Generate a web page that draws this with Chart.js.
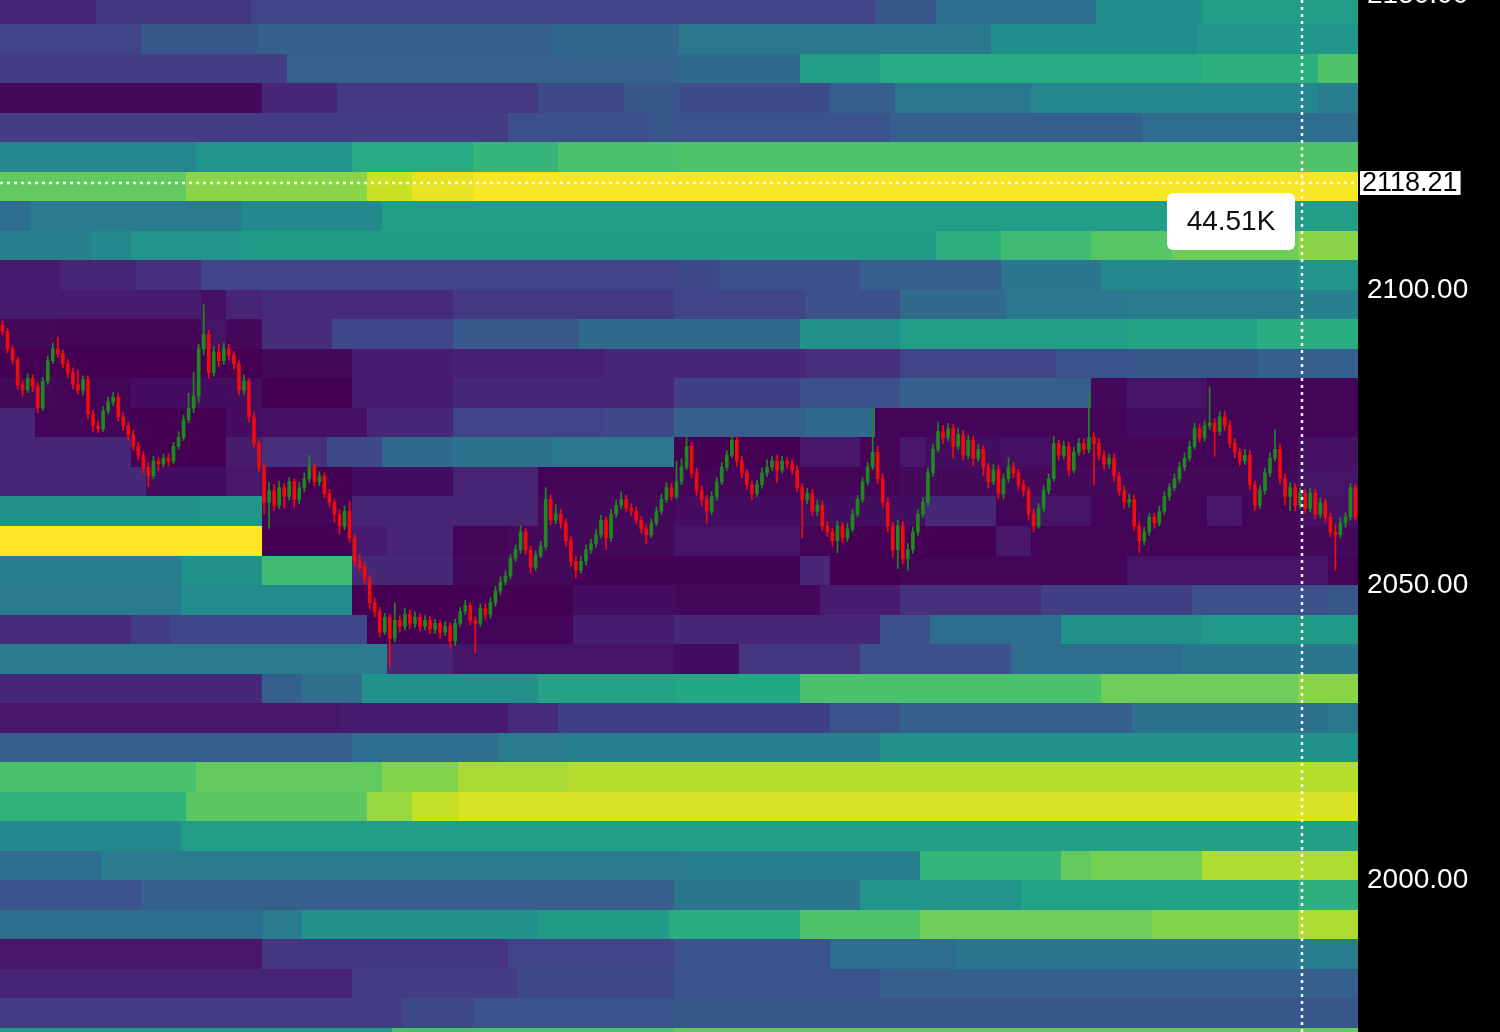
<!DOCTYPE html>
<html>
<head>
<meta charset="utf-8">
<title>Order book heatmap</title>
<script src="https://cdn.jsdelivr.net/npm/chart.js@4.4.0/dist/chart.umd.min.js"></script>
<style>
  html, body { margin: 0; padding: 0; background: #000; }
  #wrap { position: relative; width: 1500px; height: 1032px; }
</style>
</head>
<body>
<div id="wrap"><canvas id="heat"></canvas></div>
<script>
// price axis
var yTicks = [2000, 2050, 2100, 2150];
var priceMin = 1974.24, priceMax = 2149.15;
var bandSize = 5;
var maxVolume = 45; // K

// liquidity bands, bottom to top; each level is [first candle, volume in K]
var bandLows = [1970, 1975, 1980, 1985, 1990, 1995, 2000, 2005, 2010, 2015, 2020, 2025,
  2030, 2035, 2040, 2045, 2050, 2055, 2060, 2065, 2070, 2075, 2080, 2085,
  2090, 2095, 2100, 2105, 2110, 2115, 2120, 2125, 2130, 2135, 2140, 2145];
var bandLevels = [
  [[0,24.5],[78,32],[134,34]],
  [[0,8],[80,10],[94,11.5],[134,12]],
  [[0,4.5],[70,8],[103,10],[134,11.5],[175,13.5]],
  [[0,3],[52,7],[101,9],[134,11.5],[165,16],[190,17.5],[258,19]],
  [[0,16],[52,18.5],[60,22.5],[107,24.5],[133,28],[159,32.5],[183,35],[229,36.5],[258,39.5]],
  [[0,11.5],[28,13.5],[134,17.5],[171,23],[203,26],[258,28.5]],
  [[0,16],[20,18.5],[135,19],[183,29.5],[211,34],[217,35.5],[239,39.5]],
  [[0,21],[36,25],[134,25.5]],
  [[0,29],[37,33.5],[73,38],[82,41],[91,42.5]],
  [[0,32],[39,34],[76,36.5],[91,39],[113,40]],
  [[0,13.5],[70,16],[99,18.5],[113,19.5],[175,22.5]],
  [[0,3],[68,3.5],[101,5.5],[111,8.5],[165,11.5],[179,13.5],[225,17],[264,18]],
  [[0,5],[52,13.5],[60,16.5],[72,22.5],[107,26],[134,27],[159,32],[219,35],[258,37]],
  [[0,18.5],[77,4.5],[90,2.5],[134,1.5],[147,7],[171,11],[201,16],[235,17.5]],
  [[0,5.5],[26,8],[34,9.5],[73,0],[90,0.5],[114,3.5],[134,5],[175,11],[185,16],[211,22.5],[239,24]],
  [[0,18.5],[36,21.5],[70,0],[114,1.5],[134,1],[163,3.5],[179,6],[207,8.5],[237,11],[264,12]],
  [[0,19],[36,22.5],[52,31],[70,5],[90,1],[114,0.3],[159,5],[165,0],[179,0.5],[224,2.5],[264,0.5]],
  [[0,45],[52,0],[70,3.5],[77,4.5],[90,0.5],[101,1],[134,2.5],[159,0.5],[165,0],[198,3],[205,0.5],[258,1]],
  [[0,22.5],[40,23.5],[52,0.5],[70,4.5],[107,1],[134,1.5],[184,5],[198,0.5],[205,2.5],[217,0.5],[240,3],[247,0.5],[258,2]],
  [[0,5],[29,1.5],[45,3],[52,0],[70,1.5],[90,4.5],[107,0.5],[179,1],[258,2.5]],
  [[0,4.5],[26,0],[45,3.5],[52,6],[65,10],[76,15.5],[90,17],[110,18],[134,0],[159,3],[171,0.5],[179,3],[184,1.5],[199,2],[209,0.5],[258,2]],
  [[0,4.5],[7,0.5],[26,0],[45,1.5],[52,2],[73,5],[90,9],[120,10],[134,13.5],[160,15.5],[174,0.5],[224,1.5],[240,0.5]],
  [[0,1],[11,0.5],[26,1.5],[52,0],[70,3.5],[90,5],[134,8.5],[159,11],[179,13.5],[217,1],[224,2.5],[240,0.5]],
  [[0,0],[52,1],[70,3.5],[90,4],[120,5],[160,6],[179,9],[210,11.5],[224,12],[250,13.5]],
  [[0,1],[11,0.5],[40,2.5],[45,1],[52,5.5],[66,9.5],[90,12.5],[115,15.5],[159,22.5],[179,25],[224,26],[250,28]],
  [[0,3.5],[40,2],[45,4.5],[52,5.5],[90,7.5],[134,9],[160,11],[179,15.5],[200,18],[224,18.5],[258,19.5]],
  [[0,3.5],[12,4.5],[27,6],[40,9],[135,10],[143,11],[171,13.5],[199,17.5],[219,21],[258,23]],
  [[0,19.5],[18,21],[26,23],[48,24.5],[186,28.5],[199,31],[217,33],[233,35],[258,37]],
  [[0,16],[6,18.5],[48,21],[76,25]],
  [[0,34],[37,37],[73,41.5],[82,43.5],[94,44.5]],
  [[0,20.5],[39,23],[70,27.5],[94,29.5],[111,32],[135,32.5]],
  [[0,8],[101,11],[129,12],[135,11.5],[177,13.5],[227,16]],
  [[0,1],[52,5],[67,7.5],[107,10],[124,12],[135,10.5],[165,13.5],[178,18],[205,20.5],[262,19]],
  [[0,8],[57,14],[135,15.5],[159,25],[175,27.5],[239,28.5],[262,32.5]],
  [[0,9],[28,12],[51,13.5],[110,15],[135,18],[197,22],[238,23.5]],
  [[0,5],[19,7],[50,9],[174,12],[186,16],[218,22],[239,25]]
];

// candles
var firstOpen = 2094.0;
var closes = [
  2093.0, 2090.0, 2088.1, 2083.9, 2083.1, 2085.0, 2083.6, 2080.0, 2084.5, 2088.0,
  2090.0, 2089.2, 2087.5, 2086.0, 2084.0, 2083.0, 2084.8, 2079.0, 2077.0, 2076.5,
  2079.5, 2081.0, 2081.8, 2078.5, 2077.0, 2075.5, 2073.5, 2072.0, 2070.0, 2068.5,
  2071.0, 2070.5, 2071.5, 2071.0, 2073.5, 2075.0, 2078.0, 2080.0, 2082.0, 2090.0,
  2092.5, 2086.0, 2089.5, 2088.0, 2090.0, 2089.0, 2087.5, 2083.0, 2084.5, 2078.5,
  2074.0, 2070.0, 2064.0, 2066.0, 2063.5, 2066.5, 2065.0, 2067.5, 2064.5, 2066.5,
  2068.0, 2070.0, 2067.5, 2068.5, 2065.5, 2064.0, 2062.0, 2060.0, 2062.5, 2058.0,
  2054.0, 2053.0, 2051.0, 2047.0, 2045.5, 2042.0, 2044.5, 2041.0, 2044.0, 2043.0,
  2045.0, 2043.5, 2044.5, 2043.0, 2044.0, 2042.5, 2043.5, 2042.0, 2043.0, 2040.5,
  2043.5, 2045.5, 2046.5, 2044.0, 2043.5, 2046.0, 2045.0, 2047.0, 2049.0, 2050.5,
  2051.5, 2054.5, 2056.0, 2059.0, 2056.0, 2053.0, 2055.0, 2056.5, 2064.5, 2061.0,
  2062.0, 2060.5, 2057.5, 2054.0, 2052.5, 2054.0, 2056.0, 2057.0, 2058.5, 2061.0,
  2058.0, 2062.0, 2063.5, 2064.5, 2063.0, 2062.5, 2061.0, 2059.5, 2058.5, 2060.5,
  2062.5, 2064.5, 2066.5, 2065.0, 2067.5, 2070.0, 2073.5, 2069.0, 2066.0, 2064.5,
  2062.5, 2065.0, 2067.5, 2070.0, 2072.0, 2074.5, 2071.0, 2069.0, 2067.0, 2065.5,
  2067.0, 2069.0, 2070.0, 2071.0, 2069.5, 2071.0, 2070.5, 2069.5, 2066.5, 2064.5,
  2065.5, 2062.5, 2063.5, 2060.0, 2059.0, 2057.5, 2060.0, 2058.0, 2059.5, 2062.0,
  2064.5, 2067.5, 2070.0, 2072.5, 2068.0, 2064.0, 2060.0, 2056.0, 2060.0, 2054.5,
  2056.0, 2059.0, 2062.0, 2064.0, 2069.0, 2073.0, 2076.0, 2075.0, 2076.5, 2073.5,
  2075.5, 2072.0, 2074.5, 2071.5, 2073.0, 2070.0, 2067.5, 2069.5, 2065.5, 2068.0,
  2070.0, 2069.0, 2067.0, 2066.0, 2062.0, 2060.0, 2063.0, 2066.0, 2068.0, 2074.0,
  2072.0, 2073.5, 2069.5, 2072.5, 2074.0, 2073.0, 2075.0, 2074.0, 2072.0, 2070.5,
  2071.5, 2068.5, 2066.0, 2064.0, 2064.5, 2060.0, 2057.5, 2059.0, 2061.5, 2060.5,
  2062.5, 2065.0, 2066.5, 2068.0, 2070.0, 2071.5, 2073.5, 2076.5, 2075.0, 2077.0,
  2077.5, 2076.0, 2078.5, 2077.0, 2074.0, 2072.5, 2071.0, 2072.0, 2067.0, 2063.5,
  2066.0, 2069.0, 2071.5, 2073.0, 2068.0, 2065.0, 2066.5, 2063.5, 2065.5, 2063.0,
  2065.5, 2062.0, 2064.0, 2061.5, 2059.0, 2058.5, 2060.5, 2061.5, 2066.5, 2061.5
];
var highs = [
  2094.8, 2093.5, 2090.6, 2088.6, 2084.6, 2085.8, 2085.6, 2084.2, 2085.2, 2088.8,
  2091.0, 2092.0, 2089.8, 2088.2, 2086.8, 2086.5, 2085.4, 2085.5, 2079.6, 2077.8,
  2080.2, 2081.8, 2082.6, 2082.4, 2079.2, 2077.6, 2076.2, 2074.2, 2072.6, 2070.8,
  2071.8, 2071.6, 2072.2, 2072.2, 2074.2, 2076.0, 2078.8, 2082.5, 2086.0, 2090.8,
  2097.5, 2093.2, 2090.4, 2090.8, 2091.0, 2090.8, 2089.6, 2088.0, 2085.6, 2085.0,
  2079.2, 2074.6, 2070.6, 2067.4, 2067.0, 2067.6, 2067.2, 2068.2, 2068.0, 2067.4,
  2069.0, 2072.0, 2070.6, 2069.2, 2069.0, 2066.2, 2064.6, 2062.8, 2063.4, 2064.2,
  2058.6, 2055.2, 2053.8, 2051.6, 2047.8, 2046.2, 2045.2, 2045.0, 2047.0, 2044.8,
  2046.0, 2045.8, 2045.4, 2045.2, 2044.8, 2044.6, 2044.2, 2044.0, 2043.8, 2043.6,
  2044.2, 2046.2, 2047.4, 2047.0, 2044.6, 2046.8, 2046.8, 2047.8, 2049.8, 2051.4,
  2052.4, 2055.2, 2056.8, 2060.0, 2059.6, 2056.6, 2055.8, 2057.4, 2066.5, 2065.2,
  2063.6, 2062.8, 2061.2, 2058.2, 2054.8, 2054.8, 2056.8, 2057.8, 2059.4, 2061.8,
  2061.6, 2062.8, 2064.4, 2065.8, 2065.2, 2063.8, 2063.2, 2061.6, 2060.2, 2061.2,
  2063.2, 2065.4, 2067.4, 2067.2, 2071.0, 2071.4, 2075.0, 2074.2, 2069.8, 2066.8,
  2065.2, 2065.8, 2068.2, 2070.8, 2072.8, 2075.3, 2075.2, 2071.8, 2069.6, 2067.6,
  2067.8, 2069.8, 2071.2, 2071.8, 2072.0, 2071.8, 2071.6, 2071.2, 2070.2, 2067.2,
  2066.4, 2066.2, 2064.4, 2064.2, 2060.8, 2059.6, 2060.8, 2060.6, 2060.4, 2062.8,
  2065.2, 2068.2, 2070.8, 2080.0, 2073.5, 2068.8, 2064.8, 2060.6, 2061.0, 2060.8,
  2057.0, 2059.8, 2062.8, 2064.8, 2069.8, 2073.8, 2077.6, 2077.0, 2077.4, 2077.2,
  2076.6, 2076.2, 2075.4, 2075.2, 2073.8, 2073.6, 2070.6, 2070.4, 2070.2, 2068.8,
  2071.6, 2070.8, 2069.6, 2067.8, 2066.6, 2062.8, 2063.8, 2066.8, 2068.8, 2075.2,
  2074.6, 2074.4, 2074.2, 2073.4, 2074.8, 2074.8, 2082.5, 2075.8, 2074.8, 2072.8,
  2072.2, 2072.2, 2069.2, 2066.8, 2065.4, 2065.2, 2060.8, 2059.8, 2062.2, 2062.2,
  2063.4, 2065.8, 2067.2, 2068.8, 2070.8, 2072.4, 2074.4, 2077.4, 2077.2, 2077.8,
  2083.6, 2078.2, 2079.4, 2079.4, 2077.8, 2074.8, 2073.2, 2073.0, 2072.8, 2067.6,
  2066.8, 2069.8, 2072.4, 2076.3, 2073.8, 2068.8, 2067.4, 2067.2, 2066.4, 2066.2,
  2066.4, 2066.2, 2064.8, 2064.6, 2062.2, 2060.2, 2061.4, 2062.2, 2067.2, 2067.0
];
var lows = [
  2092.4, 2089.4, 2087.5, 2083.2, 2082.0, 2082.6, 2082.8, 2079.2, 2079.6, 2084.0,
  2087.5, 2088.6, 2086.8, 2085.2, 2083.2, 2082.4, 2082.2, 2078.2, 2076.0, 2075.8,
  2076.0, 2079.0, 2080.4, 2077.8, 2076.2, 2074.6, 2072.8, 2071.2, 2069.0, 2066.7,
  2068.0, 2069.4, 2070.0, 2070.2, 2070.6, 2073.0, 2074.5, 2077.5, 2079.2, 2081.0,
  2089.0, 2085.0, 2085.4, 2087.0, 2087.4, 2088.2, 2086.6, 2082.2, 2082.4, 2077.6,
  2073.2, 2069.2, 2062.0, 2059.6, 2062.6, 2063.0, 2063.0, 2064.4, 2063.2, 2063.8,
  2065.8, 2067.4, 2066.8, 2066.8, 2064.8, 2063.2, 2060.6, 2058.6, 2059.4, 2057.2,
  2053.2, 2052.2, 2050.2, 2046.0, 2044.6, 2041.2, 2041.6, 2036.0, 2040.4, 2042.0,
  2042.4, 2042.6, 2042.8, 2042.2, 2042.4, 2041.8, 2041.8, 2041.0, 2041.4, 2039.2,
  2039.8, 2043.0, 2045.0, 2043.2, 2038.5, 2043.0, 2044.2, 2044.4, 2046.4, 2048.4,
  2050.0, 2051.0, 2054.0, 2055.4, 2055.2, 2052.0, 2052.4, 2054.6, 2056.0, 2060.2,
  2060.4, 2059.6, 2056.6, 2053.2, 2051.2, 2052.0, 2053.4, 2055.4, 2056.4, 2058.0,
  2056.0, 2057.4, 2061.4, 2063.0, 2062.4, 2061.8, 2060.4, 2058.8, 2057.0, 2058.0,
  2060.0, 2062.0, 2064.0, 2064.4, 2064.6, 2067.0, 2069.6, 2068.2, 2065.2, 2063.4,
  2060.5, 2062.0, 2064.4, 2067.0, 2069.4, 2071.6, 2070.2, 2068.2, 2066.2, 2064.4,
  2065.0, 2066.4, 2068.4, 2069.4, 2067.4, 2069.0, 2069.8, 2068.8, 2065.8, 2058.0,
  2063.8, 2061.8, 2061.8, 2059.2, 2058.2, 2056.6, 2055.5, 2057.2, 2057.4, 2059.0,
  2061.6, 2064.0, 2067.0, 2069.6, 2067.2, 2063.2, 2059.0, 2054.8, 2052.8, 2053.6,
  2052.5, 2055.4, 2058.4, 2061.4, 2063.4, 2068.4, 2072.6, 2074.0, 2074.4, 2071.6,
  2073.0, 2071.2, 2071.4, 2070.2, 2071.0, 2068.6, 2066.4, 2067.0, 2064.6, 2064.6,
  2067.4, 2068.2, 2066.2, 2065.0, 2061.0, 2059.0, 2059.6, 2062.4, 2065.4, 2067.6,
  2071.2, 2071.4, 2068.6, 2069.0, 2072.0, 2072.2, 2072.4, 2067.0, 2071.2, 2069.6,
  2069.8, 2067.6, 2065.2, 2063.0, 2063.2, 2059.2, 2055.5, 2056.8, 2058.4, 2059.6,
  2060.0, 2062.0, 2064.4, 2066.0, 2067.4, 2069.4, 2071.0, 2073.0, 2074.2, 2074.4,
  2076.4, 2071.8, 2075.4, 2076.2, 2073.2, 2071.6, 2070.2, 2070.4, 2066.2, 2062.6,
  2063.0, 2065.4, 2068.4, 2071.0, 2067.2, 2063.6, 2062.6, 2062.6, 2063.0, 2062.2,
  2062.4, 2061.2, 2061.4, 2060.6, 2058.2, 2052.5, 2058.0, 2059.8, 2061.0, 2061.0
];

// crosshair / hover readout
var crossPrice = 2118.21;
var crossCandle = 258.3;
var crossVolume = '44.51K';

var upColor = 'rgb(30,138,30)';
var downColor = 'rgb(240,12,12)';
var fontFamily = '"Liberation Sans", Arial, Helvetica, sans-serif';

var viridisStops = [
  [68,1,84],[72,36,117],[65,68,135],[53,95,141],[42,120,142],[33,145,140],
  [34,168,132],[68,191,112],[122,209,81],[189,223,38],[253,231,37]
];
function viridis(t) {
  t = Math.max(0, Math.min(1, t)) * (viridisStops.length - 1);
  var i = Math.min(Math.floor(t), viridisStops.length - 2), f = t - i;
  var a = viridisStops[i], b = viridisStops[i + 1];
  return 'rgb(' + [0, 1, 2].map(function (k) { return Math.round(a[k] + (b[k] - a[k]) * f); }).join(',') + ')';
}

var opens = closes.map(function (c, i) { return i === 0 ? firstOpen : closes[i - 1]; });
var candleColors = closes.map(function (c, i) { return c >= opens[i] ? upColor : downColor; });

var heatmapPlugin = {
  id: 'heatmap',
  beforeDatasetsDraw: function (chart) {
    var ctx = chart.ctx, xs = chart.scales.x, ys = chart.scales.y, area = chart.chartArea;
    ctx.save();
    ctx.beginPath();
    ctx.rect(area.left, area.top, area.right - area.left, area.bottom - area.top);
    ctx.clip();
    bandLows.forEach(function (lo, r) {
      var segs = bandLevels[r];
      var yTop = Math.round(ys.getPixelForValue(lo + bandSize));
      var yBot = Math.round(ys.getPixelForValue(lo));
      segs.forEach(function (seg, k) {
        var end = k + 1 < segs.length ? segs[k + 1][0] : closes.length;
        var x0 = Math.round(xs.getPixelForValue(seg[0] - 0.5));
        var x1 = Math.round(xs.getPixelForValue(end - 0.5));
        ctx.fillStyle = viridis(seg[1] / maxVolume);
        ctx.fillRect(x0, yTop, x1 - x0, yBot - yTop);
      });
    });
    ctx.restore();
  }
};

var crosshairPlugin = {
  id: 'crosshair',
  afterDraw: function (chart) {
    var ctx = chart.ctx, xs = chart.scales.x, ys = chart.scales.y, area = chart.chartArea;
    var px = Math.round(xs.getPixelForValue(crossCandle));
    var py = Math.round(ys.getPixelForValue(crossPrice));
    ctx.save();
    ctx.strokeStyle = 'rgba(255,255,255,0.95)';
    ctx.lineWidth = 2.5;
    ctx.setLineDash([3, 4]);
    ctx.beginPath(); ctx.moveTo(area.left, py); ctx.lineTo(area.right, py); ctx.stroke();
    ctx.beginPath(); ctx.moveTo(px, 0); ctx.lineTo(px, chart.height); ctx.stroke();
    ctx.setLineDash([]);

    // price tag on the axis
    ctx.font = '27px ' + fontFamily;
    var label = crossPrice.toFixed(2);
    var w = ctx.measureText(label).width;
    ctx.fillStyle = '#fff';
    ctx.fillRect(area.right + 2, py - 12, w + 5, 24);
    ctx.fillStyle = '#000';
    ctx.textAlign = 'left';
    ctx.textBaseline = 'middle';
    ctx.fillText(label, area.right + 4, py + 1);

    // volume readout box
    var bw = 128, bh = 57, bx = px - 135, by = py + 10, r = 6;
    ctx.fillStyle = '#fff';
    ctx.beginPath();
    ctx.moveTo(bx + r, by);
    ctx.arcTo(bx + bw, by, bx + bw, by + bh, r);
    ctx.arcTo(bx + bw, by + bh, bx, by + bh, r);
    ctx.arcTo(bx, by + bh, bx, by, r);
    ctx.arcTo(bx, by, bx + bw, by, r);
    ctx.closePath();
    ctx.fill();
    ctx.fillStyle = '#111';
    ctx.font = '28px ' + fontFamily;
    ctx.textAlign = 'center';
    ctx.fillText(crossVolume, bx + bw / 2, by + bh / 2 + 1);
    ctx.restore();
  }
};

var idx = closes.map(function (c, i) { return i; });

var ctx = document.getElementById('heat').getContext('2d');
var chart = new Chart(ctx, {
  type: 'bar',
  data: {
    datasets: [{
      // wicks
      data: idx.map(function (i) { return { x: i, y: [lows[i], highs[i]] }; }),
      backgroundColor: candleColors,
      barThickness: 1,
      grouped: false,
      order: 2
    }, {
      // bodies
      data: idx.map(function (i) { return { x: i, y: [opens[i], closes[i]] }; }),
      backgroundColor: candleColors,
      barThickness: 3,
      grouped: false,
      order: 1
    }]
  },
  options: {
    responsive: true,
    maintainAspectRatio: false,
    animation: false,
    layout: { padding: 0 },
    plugins: { legend: { display: false }, tooltip: { enabled: false } },
    scales: {
      x: {
        type: 'linear',
        min: -0.5,
        max: closes.length - 0.5,
        offset: false,
        display: false
      },
      y: {
        type: 'linear',
        position: 'right',
        min: priceMin,
        max: priceMax,
        grid: { display: false, drawTicks: false },
        border: { display: false },
        afterBuildTicks: function (scale) {
          scale.ticks = yTicks.map(function (v) { return { value: v }; });
        },
        afterFit: function (scale) {
          scale.width = 142;
          scale.paddingTop = 0;
          scale.paddingBottom = 0;
        },
        ticks: {
          color: '#fff',
          padding: 9,
          autoSkip: false,
          font: { family: fontFamily, size: 28 },
          callback: function (v) { return Number(v).toFixed(2); }
        }
      }
    }
  },
  plugins: [heatmapPlugin, crosshairPlugin]
});
</script>
</body>
</html>
